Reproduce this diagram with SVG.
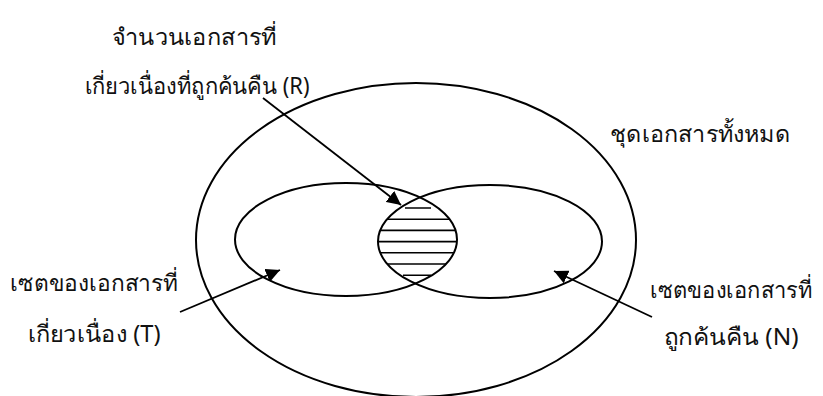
<svg xmlns="http://www.w3.org/2000/svg" width="823" height="396" viewBox="0 0 823 396">
  <style>
    .shape { fill: none; stroke: #000; stroke-width: 2; }
    .hatch { stroke: #000; stroke-width: 1.6; }
    .conn { stroke: #000; stroke-width: 1.8; fill: none; }
    .lbl { font-family: "Noto Sans", "DejaVu Sans", sans-serif; font-size: 23px; fill: #111; text-anchor: middle; }
  </style>
  <defs>
    <marker id="arrow" markerUnits="userSpaceOnUse" markerWidth="16" markerHeight="14" refX="14" refY="7" orient="auto">
      <path d="M0,0 L14,7 L0,14 z" fill="#000"/>
    </marker>
    <clipPath id="clipL"><ellipse cx="346" cy="239.5" rx="111" ry="56.5"/></clipPath>
    <clipPath id="clipR"><ellipse cx="490" cy="241.5" rx="112" ry="56.5"/></clipPath>
  </defs>

  <g id="all-documents">
    <ellipse class="shape" cx="416" cy="240" rx="220" ry="157"/>
    <text class="lbl" x="700" y="142" textLength="180" lengthAdjust="spacingAndGlyphs">ชุดเอกสารทั้งหมด</text>
  </g>

  <g id="relevant-set">
    <ellipse class="shape" cx="346" cy="239.5" rx="111" ry="56.5"/>
    <text class="lbl" x="94" y="291" textLength="168" lengthAdjust="spacingAndGlyphs">เซตของเอกสารที่</text>
    <text class="lbl" x="94" y="342" textLength="133" lengthAdjust="spacingAndGlyphs">เกี่ยวเนื่อง (T)</text>
  </g>

  <g id="retrieved-set">
    <ellipse class="shape" cx="490" cy="241.5" rx="112" ry="56.5"/>
    <text class="lbl" x="731" y="298" textLength="162" lengthAdjust="spacingAndGlyphs">เซตของเอกสารที่</text>
    <text class="lbl" x="731" y="345" textLength="135" lengthAdjust="spacingAndGlyphs">ถูกค้นคืน (N)</text>
  </g>

  <g id="relevant-retrieved">
    <g clip-path="url(#clipL)">
      <g clip-path="url(#clipR)">
        <line class="hatch" x1="405" y1="208" x2="431" y2="208"/>
        <line class="hatch" x1="370" y1="219.2" x2="470" y2="219.2"/>
        <line class="hatch" x1="370" y1="230.4" x2="470" y2="230.4"/>
        <line class="hatch" x1="370" y1="241.6" x2="470" y2="241.6"/>
        <line class="hatch" x1="370" y1="252.8" x2="470" y2="252.8"/>
        <line class="hatch" x1="370" y1="264" x2="470" y2="264"/>
        <line class="hatch" x1="403" y1="275.2" x2="431" y2="275.2"/>
      </g>
    </g>
    <text class="lbl" x="194" y="45" textLength="165" lengthAdjust="spacingAndGlyphs">จำนวนเอกสารที่</text>
    <text class="lbl" x="197" y="94" textLength="225" lengthAdjust="spacingAndGlyphs">เกี่ยวเนื่องที่ถูกค้นคืน (R)</text>
  </g>

  <g id="connectors">
    <line class="conn" x1="263" y1="98" x2="401" y2="205" marker-end="url(#arrow)"/>
    <line class="conn" x1="180" y1="312" x2="280" y2="270" marker-end="url(#arrow)"/>
    <line class="conn" x1="652" y1="317" x2="554" y2="271" marker-end="url(#arrow)"/>
  </g>
</svg>
